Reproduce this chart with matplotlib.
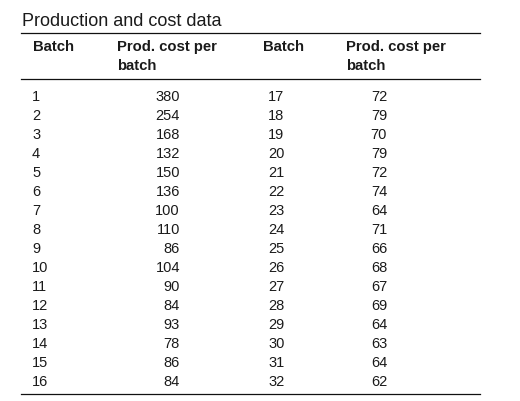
import matplotlib
matplotlib.use("Agg")
import matplotlib.pyplot as plt

# Table data
title = "Production and cost data"
header_batch = "Batch"
header_cost = ["Prod. cost per", "batch"]
batch_left = list(range(1, 17))
cost_left = [380, 254, 168, 132, 150, 136, 100, 110, 86, 104, 90, 84, 93, 78, 86, 84]
batch_right = list(range(17, 33))
cost_right = [72, 79, 70, 79, 72, 74, 64, 71, 66, 68, 67, 69, 64, 63, 64, 62]

plt.rcParams['font.family'] = ['Liberation Sans', 'DejaVu Sans']

fig = plt.figure(figsize=(5.2, 4.02), dpi=100)
ax = fig.add_axes([0, 0, 1, 1])
ax.set_xlim(0, 520)
ax.set_ylim(402, 0)
ax.axis('off')

txt = '#1a1a1a'
ax.text(22, 21, title, fontsize=13, color=txt, va='center', ha='left')

# rules
for y in (34, 80, 395):
    ax.plot([21, 480], [y, y], color='#111111', lw=0.9)

# headers
hs = 10.7
for x_b, x_c in ((33, 117), (263, 346)):
    ax.text(x_b, 47, header_batch, fontsize=hs, weight='bold', color=txt, va='center')
    ax.text(x_c, 47, header_cost[0], fontsize=hs, weight='bold', color=txt, va='center')
    ax.text(x_c, 66, header_cost[1], fontsize=hs, weight='bold', color=txt, va='center')

# rows
row0, step = 97, 19
for i in range(len(batch_left)):
    y = row0 + i * step
    ax.text(32, y, str(batch_left[i]), fontsize=10.5, color=txt, va='center', ha='left')
    ax.text(180, y, str(cost_left[i]), fontsize=10.5, color=txt, va='center', ha='right')
    ax.text(268, y, str(batch_right[i]), fontsize=10.5, color=txt, va='center', ha='left')
    ax.text(387, y, str(cost_right[i]), fontsize=10.5, color=txt, va='center', ha='right')

fig.savefig('out.png', dpi=100)
